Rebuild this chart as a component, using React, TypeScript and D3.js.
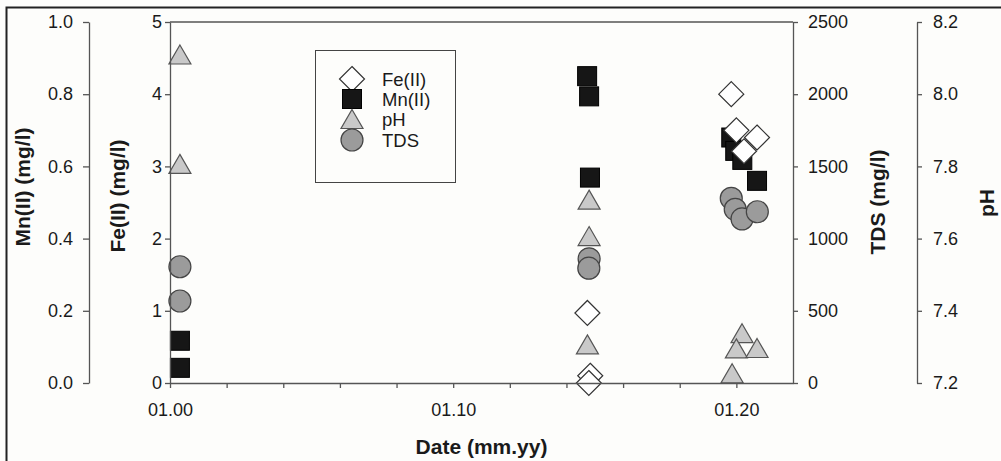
import {useEffect, useRef} from "react";
import * as d3 from "d3";

const SvgWidth = 1001;
const SvgHeight = 461;

// dates are years after Jan 2000 (01.00)
const feDates = [14.74, 14.84, 14.79, 19.82, 20.0, 20.73, 20.27];
const feValues = [0.97, 0.1, 0.0, 4.0, 3.5, 3.4, 3.21];

const mnDates = [0.35, 0.35, 14.73, 14.8, 14.83, 19.82, 19.96, 20.21, 20.73];
const mnValues = [0.117, 0.042, 0.85, 0.794, 0.569, 0.68, 0.643, 0.618, 0.56];

const phDates = [0.35, 0.35, 14.8, 14.8, 14.74, 20.2, 20.0, 20.73, 19.85];
const phValues = [8.11, 7.807, 7.708, 7.607, 7.307, 7.338, 7.296, 7.297, 7.227];

const tdsDates = [0.35, 0.35, 14.8, 14.79, 19.82, 19.96, 20.2, 20.74];
const tdsValues = [805, 568, 860, 795, 1279, 1203, 1136, 1186];

const xTickValues = [0, 2, 4, 6, 8, 10, 12, 14, 16, 18, 20];
const xLabelValues = [0, 10, 20];
const xTickLabels = ["01.00", "01.10", "01.20"];
const legendLabels = ["Fe(II)", "Mn(II)", "pH", "TDS"];

const fontFamily = "'Liberation Sans', Arial, sans-serif";
const axisColor = "#555";
const textColor = "#1a1a1a";
const squareColor = "#161616";
const triangleColor = "#c9c9c9";
const circleColor = "#9b9b9b";
const diamondColor = "#ffffff";

const plotLeft = 170;
const plotRight = 793;
const plotTop = 22;
const plotBottom = 383;
const mnAxisX = 89;
const phAxisX = 917;

function diamondPath(r) {
    return `M0,${-r}L${r},0L0,${r}L${-r},0Z`;
}
const trianglePath = "M0,-9.5L11,9.5L-11,9.5Z";

function Symbol({kind, x, y}: any) {
    if (kind === "fe") {
        return <path d={diamondPath(12.5)} transform={`translate(${x},${y})`}
                     fill={diamondColor} stroke="#333" strokeWidth={1.2}/>;
    }
    if (kind === "mn") {
        return <rect x={x - 9.5} y={y - 9.5} width={19} height={19}
                     fill={squareColor} stroke="#000" strokeWidth={1}/>;
    }
    if (kind === "ph") {
        return <path d={trianglePath} transform={`translate(${x},${y})`}
                     fill={triangleColor} stroke="#555" strokeWidth={1.2}/>;
    }
    return <circle cx={x} cy={y} r={11} fill={circleColor} stroke="#444" strokeWidth={1.2}/>;
}

function App() {
    const xAxisRef = useRef(null);
    const feAxisRef = useRef(null);
    const mnAxisRef = useRef(null);
    const tdsAxisRef = useRef(null);
    const phAxisRef = useRef(null);

    const xScale = d3.scaleLinear().domain([0, 22]).range([plotLeft, plotRight]);
    const feScale = d3.scaleLinear().domain([0, 5]).range([plotBottom, plotTop]);
    const mnScale = d3.scaleLinear().domain([0, 1]).range([plotBottom, plotTop]);
    const tdsScale = d3.scaleLinear().domain([0, 2500]).range([plotBottom, plotTop]);
    const phScale = d3.scaleLinear().domain([7.2, 8.2]).range([plotBottom, plotTop]);

    useEffect(() => {
        const styleAxis = (sel) => {
            sel.attr("font-size", 18).attr("font-family", fontFamily);
            sel.select(".domain").attr("stroke", axisColor).attr("stroke-width", 1.3);
            sel.selectAll(".tick line").attr("stroke", axisColor).attr("stroke-width", 1.3);
            sel.selectAll(".tick text").attr("fill", textColor);
        };

        const xAxis = d3.axisBottom(xScale)
            .tickValues(xTickValues)
            .tickSize(5)
            .tickSizeOuter(0)
            .tickPadding(15)
            .tickFormat((d) => {
                const i = xLabelValues.indexOf(d as number);
                return i >= 0 ? xTickLabels[i] : "";
            });
        d3.select(xAxisRef.current).call(xAxis).call(styleAxis);

        d3.select(feAxisRef.current)
            .call(d3.axisLeft(feScale).ticks(5).tickSize(5).tickSizeOuter(0).tickPadding(3).tickFormat(d3.format("d")))
            .call(styleAxis);

        d3.select(mnAxisRef.current)
            .call(d3.axisLeft(mnScale).ticks(5).tickSize(6).tickSizeOuter(0).tickPadding(10).tickFormat(d3.format(".1f")))
            .call(styleAxis);

        d3.select(tdsAxisRef.current)
            .call(d3.axisRight(tdsScale).ticks(5).tickSize(5).tickSizeOuter(0).tickPadding(10).tickFormat(d3.format("d")))
            .call(styleAxis);

        d3.select(phAxisRef.current)
            .call(d3.axisRight(phScale).ticks(5).tickSize(5).tickSizeOuter(0).tickPadding(11).tickFormat(d3.format(".1f")))
            .call(styleAxis);
    }, []);

    const legendX = 352;
    const legendRows = [79, 99, 119, 140];
    const legendKinds = ["fe", "mn", "ph", "tds"];

    return (
        <svg width={SvgWidth} height={SvgHeight}
             style={{position: "absolute", left: 0, top: 0, display: "block"}}>
            <rect x={0} y={0} width={SvgWidth} height={SvgHeight} fill="#fdfdfb"/>
            <path d={`M6.5,${SvgHeight}L6.5,7.5L${SvgWidth},7.5`} fill="none" stroke="#222" strokeWidth={2}/>

            {/* plot frame top */}
            <line x1={plotLeft} x2={plotRight} y1={plotTop} y2={plotTop} stroke={axisColor} strokeWidth={1.3}/>

            {/* markers */}
            <g>
                {mnDates.map((d, i) => (
                    <Symbol key={"mn" + i} kind="mn" x={xScale(d)} y={mnScale(mnValues[i])}/>
                ))}
                {feDates.map((d, i) => (
                    <Symbol key={"fe" + i} kind="fe" x={xScale(d)} y={feScale(feValues[i])}/>
                ))}
                {phDates.map((d, i) => (
                    <Symbol key={"ph" + i} kind="ph" x={xScale(d)} y={phScale(phValues[i])}/>
                ))}
                {tdsDates.map((d, i) => (
                    <Symbol key={"tds" + i} kind="tds" x={xScale(d)} y={tdsScale(tdsValues[i])}/>
                ))}
            </g>

            <g ref={xAxisRef} transform={`translate(0,${plotBottom})`}></g>
            <g ref={feAxisRef} transform={`translate(${plotLeft},0)`}></g>
            <g ref={mnAxisRef} transform={`translate(${mnAxisX},0)`}></g>
            <g ref={tdsAxisRef} transform={`translate(${plotRight},0)`}></g>
            <g ref={phAxisRef} transform={`translate(${phAxisX},0)`}></g>

            {/* legend */}
            <rect x={315.5} y={50.5} width={140} height={132} fill="#fdfdfb" stroke="#444" strokeWidth={1}/>
            {legendLabels.map((label, i) => (
                <g key={label}>
                    <Symbol kind={legendKinds[i]} x={legendX} y={legendRows[i]}/>
                    <text x={382} y={legendRows[i]} dy="0.36em" fontSize={18.5}
                          fontFamily={fontFamily} fill={textColor}>{label}</text>
                </g>
            ))}

            {/* axis titles */}
            <text transform={`translate(23,187) rotate(-90)`} textAnchor="middle" dy="0.35em"
                  fontSize={21} fontWeight="bold" fontFamily={fontFamily} fill={textColor}>Mn(II) (mg/l)</text>
            <text transform={`translate(118,196) rotate(-90)`} textAnchor="middle" dy="0.35em"
                  fontSize={21} fontWeight="bold" fontFamily={fontFamily} fill={textColor}>Fe(II) (mg/l)</text>
            <text transform={`translate(878,202) rotate(-90)`} textAnchor="middle" dy="0.35em"
                  fontSize={21} fontWeight="bold" fontFamily={fontFamily} fill={textColor}>TDS (mg/l)</text>
            <text transform={`translate(987,203) rotate(-90)`} textAnchor="middle" dy="0.35em"
                  fontSize={21} fontWeight="bold" fontFamily={fontFamily} fill={textColor}>pH</text>
            <text x={(plotLeft + plotRight) / 2} y={454} textAnchor="middle"
                  fontSize={21} fontWeight="bold" fontFamily={fontFamily} fill={textColor}>Date (mm.yy)</text>
        </svg>
    );
}

export default App;
